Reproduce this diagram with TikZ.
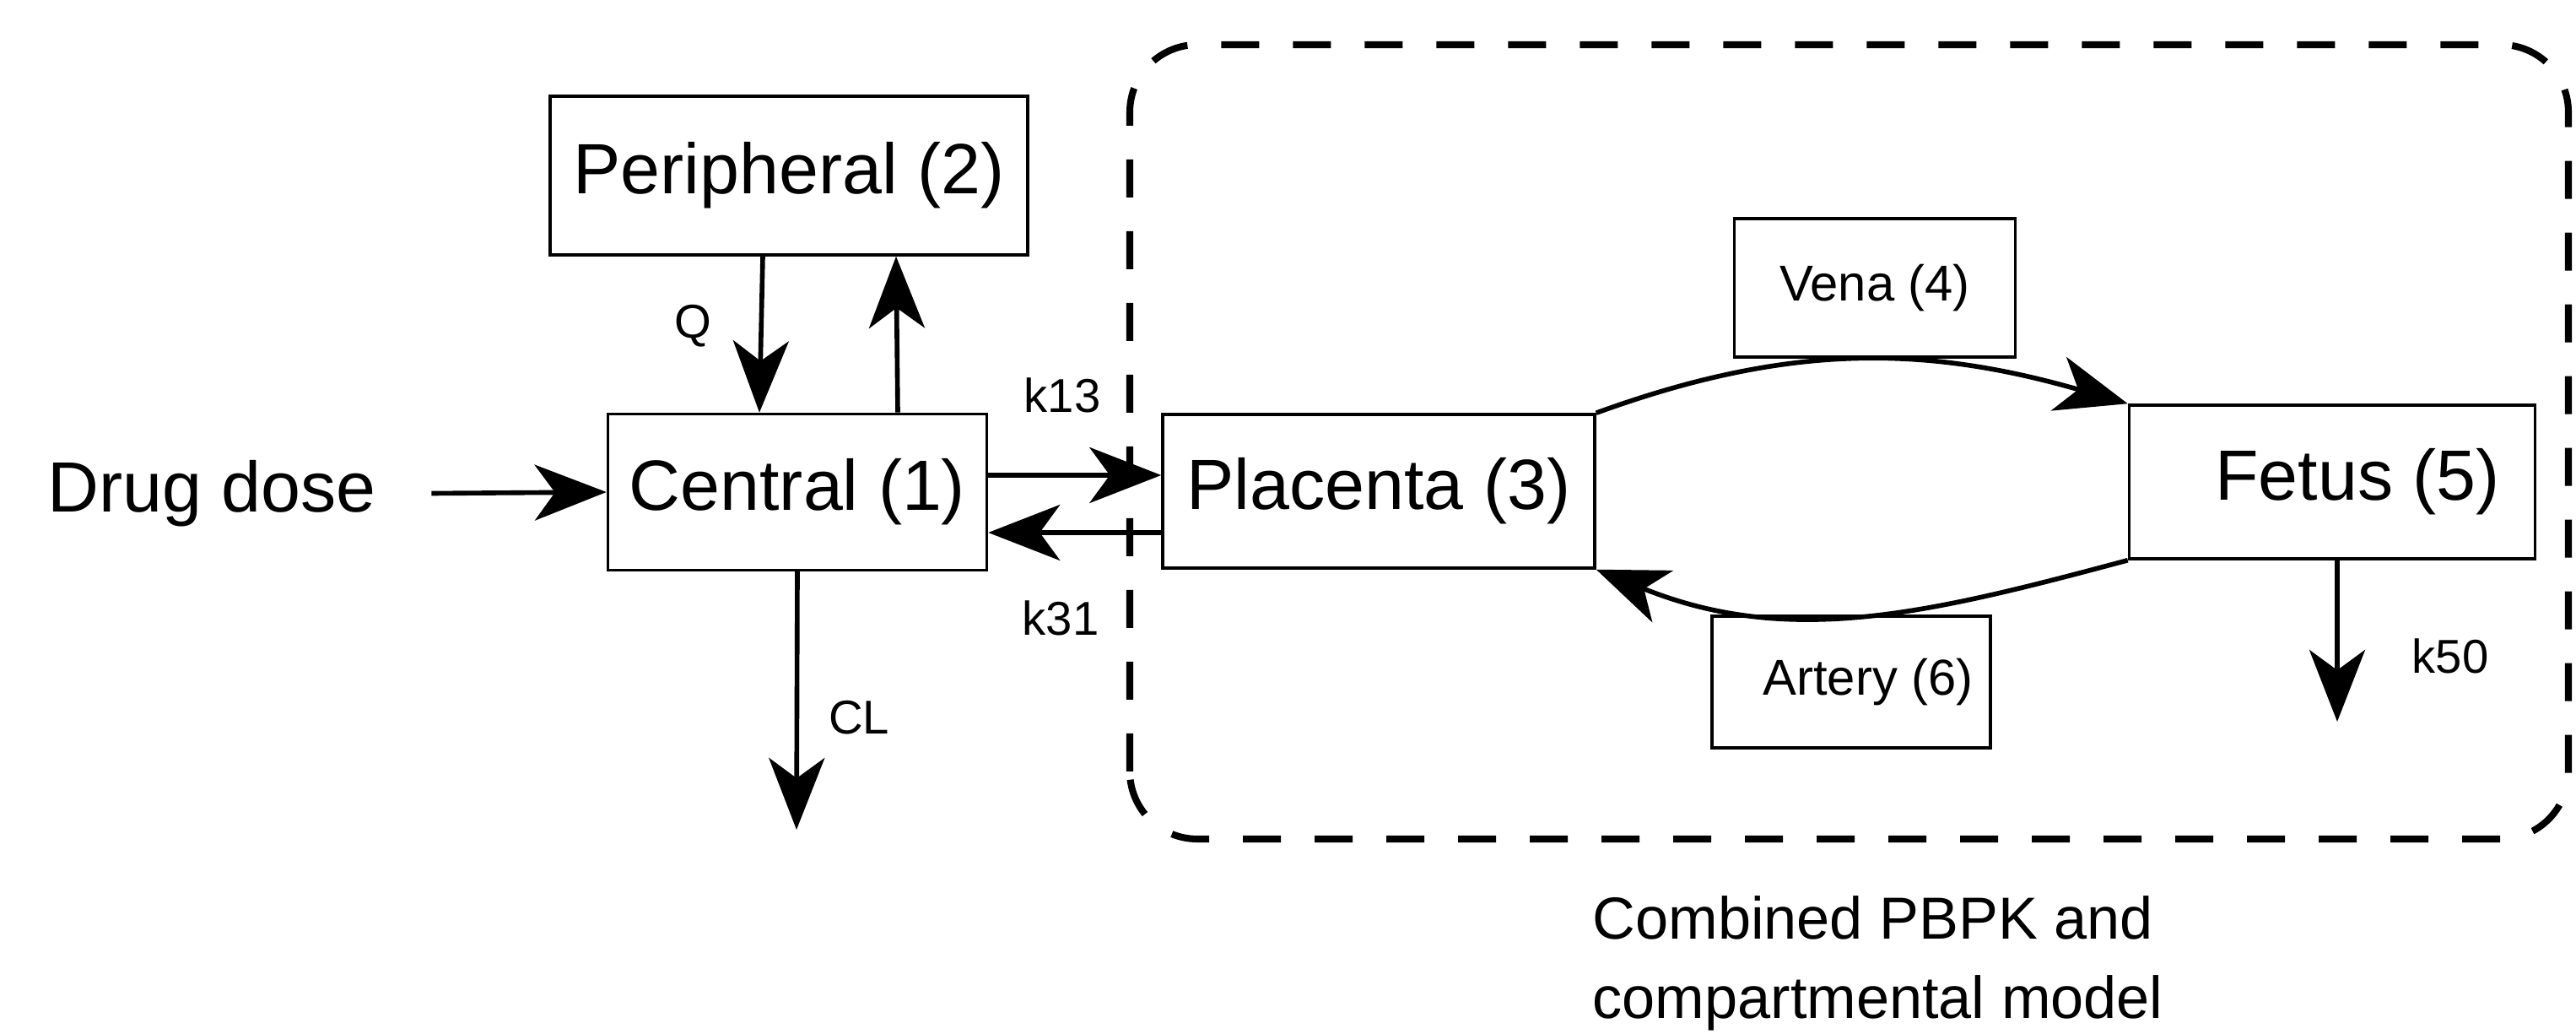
\documentclass[tikz,border=0pt]{standalone}
\usepackage{fontspec}
\setmainfont{Liberation Sans}
\usetikzlibrary{positioning,arrows.meta}

\tikzset{
  box/.style={draw, line width=1pt, inner sep=0pt, font=\fontsize{24}{29}\selectfont},
  smallbox/.style={draw, line width=1pt, inner sep=0pt, font=\fontsize{17}{20}\selectfont},
  flow/.style={line width=1.6pt, -{Stealth[length=0.85cm,width=0.66cm,inset=0.24cm]}},
  rate/.style={font=\fontsize{16}{19}\selectfont},
}

\begin{document}
\begin{tikzpicture}
    \useasboundingbox (0,0) rectangle (30.53,12.25);

    % PBPK part
    \draw[line width=2.3pt, dash pattern=on 0.45cm off 0.4cm, rounded corners=0.8cm] (13.39,2.31) rectangle (30.44,11.72);

    % Compartments
    \node[font=\fontsize{24}{29}\selectfont, inner sep=0pt] (dose) at (2.51,6.40) {Drug dose};
    \node[box, minimum width=5.66cm, minimum height=1.88cm] (peri) at (9.35,10.17) {Peripheral (2)};
    \node[box, minimum width=4.49cm, minimum height=1.85cm] (central) at (9.45,6.42) {Central (1)};
    \node[box, minimum width=5.12cm, minimum height=1.82cm] (placenta) at (16.34,6.43) {Placenta (3)};
    \node[box, minimum width=4.81cm, minimum height=1.82cm] (fetus) at (27.64,6.54) {\hspace*{0.6cm}Fetus (5)};
    \node[smallbox, minimum width=3.33cm, minimum height=1.64cm] (vena) at (22.22,8.84) {Vena (4)};
    \node[smallbox, minimum width=3.30cm, minimum height=1.56cm] (artery) at (21.94,4.17) {\hspace*{0.4cm}Artery (6)};

    \coordinate (clEnd) at (9.44,2.42);
    \coordinate (k50End) at (27.70,3.70);

    % Flows
    \draw[flow, shorten <=0.65cm] (dose.east) -- (central.west);
    \draw[flow] ([xshift=-0.31cm]peri.south) -- ([xshift=-0.45cm]central.north);
    \draw[flow] ([xshift=1.19cm]central.north) -- ([xshift=1.27cm]peri.south);
    \draw[flow] ([yshift=0.2cm]central.east) -- ([yshift=0.19cm]placenta.west);
    \draw[flow] ([yshift=-0.49cm]placenta.west) -- ([yshift=-0.48cm]central.east);
    \draw[flow] (central.south) -- (clEnd);
    \draw[flow] (placenta.north east) to[out=20,in=164] (fetus.north west);
    \draw[flow] (fetus.south west) to[out=195,in=338] (placenta.south east);
    \draw[flow] ([xshift=0.06cm]fetus.south) -- (k50End);

    % Rate labels
    \node[rate] (lq) at (8.21,8.39) {Q};
    \node[rate] (l13) at (12.59,7.57) {k13};
    \node[rate] (l31) at (12.57,4.93) {k31};
    \node[rate] (lcl) at (10.18,3.75) {CL};
    \node[rate] (l50) at (29.04,4.48) {k50};

    \node[align=left, anchor=west, inner sep=0pt, font=\fontsize{20}{26.7}\selectfont] (caption) at (18.87,0.84) {Combined PBPK and\\compartmental model};
\end{tikzpicture}
\end{document}
